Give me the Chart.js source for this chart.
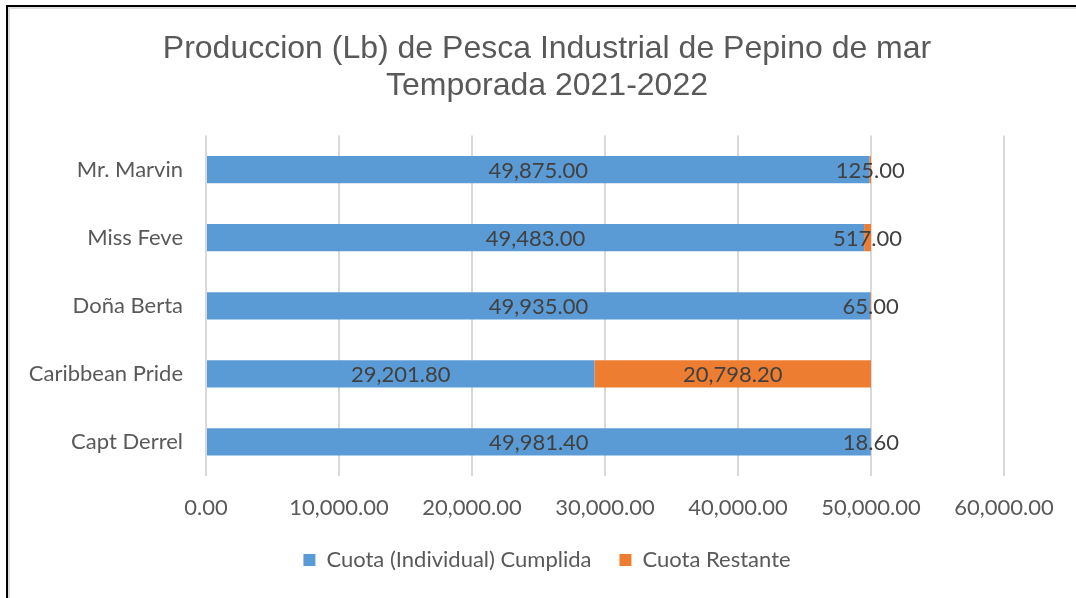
<!DOCTYPE html>
<html>
<head>
<meta charset="utf-8">
<script src="https://cdn.jsdelivr.net/npm/chart.js@4.4.1/dist/chart.umd.min.js"></script>
<style>
  html, body { margin:0; padding:0; background:#fff; }
  #wrap { position:relative; width:1076px; height:598px; overflow:hidden; }
  #frame { position:absolute; left:6px; top:5px; width:1076px; height:598px; border-left:2px solid #000; border-top:2px solid #000; pointer-events:none; }
  #frame > div { position:absolute; left:0; top:0; width:100%; height:100%; border-left:2px solid #dedede; border-top:2px solid #dedede; }
  canvas { position:absolute; left:0; top:0; }
</style>
</head>
<body>
<div id="wrap">
  <canvas id="chart" width="1076" height="598"></canvas>
  <div id="frame"><div></div></div>
</div>
<script>
const boats = ['Mr. Marvin', 'Miss Feve', 'Doña Berta', 'Caribbean Pride', 'Capt Derrel'];
const cumplida = [49875.00, 49483.00, 49935.00, 29201.80, 49981.40];
const restante = [125.00, 517.00, 65.00, 20798.20, 18.60];
const seriesNames = ['Cuota (Individual) Cumplida', 'Cuota Restante'];
const titleLines = ['Produccion (Lb) de Pesca Industrial de Pepino de mar', 'Temporada 2021-2022'];

const BLUE = '#5b9bd5', ORANGE = '#ed7d31';
const LABEL_FONT = 'Lato, "Open Sans", sans-serif';

function fmt(n){ return Number(n).toLocaleString('en-US', {minimumFractionDigits:2, maximumFractionDigits:2}); }

/* value in the middle of every bar segment */
const segLabels = {
  id: 'segLabels',
  afterDatasetsDraw(chart){
    const ctx = chart.ctx;
    ctx.save();
    ctx.font = '22px ' + LABEL_FONT;
    ctx.fillStyle = '#404040';
    ctx.textAlign = 'center';
    ctx.textBaseline = 'middle';
    chart.data.datasets.forEach((ds, i)=>{
      chart.getDatasetMeta(i).data.forEach((bar, j)=>{
        ctx.fillText(fmt(ds.data[j]), (bar.x + bar.base)/2, bar.y + 1);
      });
    });
    ctx.restore();
  }
};

/* title and legend are centred on the whole frame, not just left of the right padding */
const recenter = {
  id: 'recenter',
  afterLayout(chart){
    chart.titleBlock.left = 90;
    chart.legend.left = 90;
  }
};

new Chart(document.getElementById('chart'), {
  type: 'bar',
  data: {
    labels: boats,
    datasets: [
      { label: seriesNames[0], data: cumplida, backgroundColor: BLUE, categoryPercentage: 1, barPercentage: 0.4 },
      { label: seriesNames[1], data: restante, backgroundColor: ORANGE, categoryPercentage: 1, barPercentage: 0.4 }
    ]
  },
  options: {
    indexAxis: 'y',
    responsive: false,
    animation: false,
    layout: { padding: { left: 0, right: 72, top: 0, bottom: 17 } },
    scales: {
      x: {
        stacked: true, min: 0, max: 60000,
        ticks: { stepSize: 10000, color:'#595959', font:{ family: LABEL_FONT, size:22 }, padding: 19, callback: v => fmt(v) },
        grid: { color:'#d9d9d9', lineWidth: 2, drawTicks: false },
        border: { display: false },
        afterFit(scale){ scale.height = 45; }
      },
      y: {
        stacked: true,
        ticks: { color:'#595959', font:{ family: LABEL_FONT, size:22 }, padding: 23 },
        grid: { display: false, drawTicks: false },
        border: { display: false },
        afterFit(scale){ scale.width = 206; }
      }
    },
    plugins: {
      title: {
        display: true, text: titleLines, color:'#595959',
        font: { family:'"Liberation Sans", Arial, sans-serif', size: 32, weight: 'normal', lineHeight: 1.15 },
        padding: { top: 31, bottom: 31 }
      },
      legend: {
        position: 'bottom',
        labels: { color:'#595959', font:{ family: LABEL_FONT, size:22 }, boxWidth: 12, boxHeight: 12, padding: 28 }
      },
      tooltip: { enabled: false }
    }
  },
  plugins: [segLabels, recenter]
});
</script>
</body>
</html>
